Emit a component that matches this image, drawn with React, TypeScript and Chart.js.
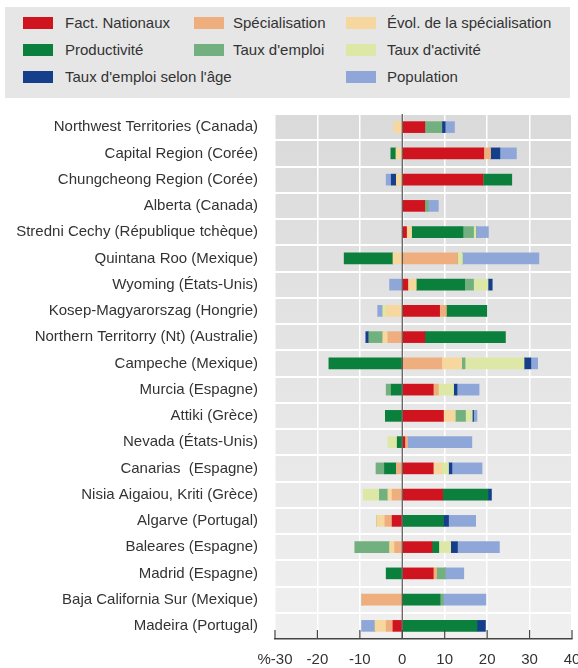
import React, { useEffect, useRef } from "react";
import { Chart, registerables } from "chart.js";

Chart.register(...registerables);

const categories = [
  "Northwest Territories (Canada)",
  "Capital Region (Corée)",
  "Chungcheong Region (Corée)",
  "Alberta (Canada)",
  "Stredni Cechy (République tchèque)",
  "Quintana Roo (Mexique)",
  "Wyoming (États-Unis)",
  "Kosep-Magyarorszag (Hongrie)",
  "Northern Territorry (Nt) (Australie)",
  "Campeche (Mexique)",
  "Murcia (Espagne)",
  "Attiki (Grèce)",
  "Nevada (États-Unis)",
  "Canarias  (Espagne)",
  "Nisia Aigaiou, Kriti (Grèce)",
  "Algarve (Portugal)",
  "Baleares (Espagne)",
  "Madrid (Espagne)",
  "Baja California Sur (Mexique)",
  "Madeira (Portugal)",
];

const factNationaux = [5.3, 19.2, 19, 5.3, 1, 0, 1.3, 8.8, 5.3, 0, 7.3, 9.7, 0.6, 7.3, 9.5, -2.4, 7, 7.3, 0, -2.2];
const specialisation = [0, 1.6, 0, 0, 0, 13, 0, 1.6, -3.4, 9.3, 1.2, 0, 0.6, -1.4, -2.4, -1.7, -1.8, 0.8, -9.5, -1.6];
const evolSpecialisation = [-2, -1.5, -1.4, 0, 1.2, -2.2, 2, -3.8, -1.2, 4.7, 0, 2.8, 0, 2, -1, -1.9, -1.2, 0, 0, -2.6];
const productivite = [0, -1.2, 6.8, 0, 12.1, -11.5, 11.4, 9.5, 19, -17.3, -2.6, -4, -1.2, -2.8, 10.7, 9.7, 1.6, -3.8, 8.9, 17.6];
const tauxEmploi = [4, 0, 0, 0.8, 2.5, 0, 2.1, 0, -3.3, 0.8, -1.2, 2.4, 0, -2, -2, 0, -8.2, 2, 0.8, 0];
const tauxActivite = [0, 0, 0, 0, 0.6, 1.2, 3.4, -0.8, 0, 13.9, 3.6, 1.6, -2.2, 1.6, -3.8, 0, 2.8, 0, 0, 0];
const tauxEmploiAge = [0.8, 2.2, -1.2, 0, 0, 0, 1, 0, -0.7, 1.6, 0.8, 0.3, 0, 0.8, 0.8, 1.2, 1.6, 0, 0, 2];
const population = [2.2, 3.9, -1.2, 2.4, 2.9, 18, -3, -1.2, 0, 1.6, 5.2, 0.8, 15.2, 7.1, 0, 6.4, 9.9, 4.4, 10, -3.2];

const xTicks = [-30, -20, -10, 0, 10, 20, 30, 40];

const seriesNames = [
  "Fact. Nationaux",
  "Spécialisation",
  "Évol. de la spécialisation",
  "Productivité",
  "Taux d'emploi",
  "Taux d'activité",
  "Taux d'emploi selon l'âge",
  "Population",
];
const seriesColors = ["#d0141f", "#eeae7e", "#f6d79d", "#0b7f3c", "#73b07f", "#dde8a6", "#153f8a", "#8fa7d8"];
const seriesData = [
  factNationaux,
  specialisation,
  evolSpecialisation,
  productivite,
  tauxEmploi,
  tauxActivite,
  tauxEmploiAge,
  population,
];

// legend grid: [seriesIndex, col, row]
const legendLayout: [number, number, number][] = [
  [0, 0, 0],
  [1, 1, 0],
  [2, 2, 0],
  [3, 0, 1],
  [4, 1, 1],
  [5, 2, 1],
  [6, 0, 2],
  [7, 2, 2],
];

const FONT = "'Liberation Sans', Arial, Helvetica, sans-serif";

const bgPlugin = {
  id: "bgPlugin",
  beforeDraw(chart: any) {
    const { ctx, chartArea } = chart;
    const g = ctx.createLinearGradient(0, chartArea.top, 0, chartArea.bottom);
    g.addColorStop(0, "#dadada");
    g.addColorStop(1, "#f0f0f0");
    ctx.save();
    ctx.fillStyle = g;
    ctx.fillRect(chartArea.left, chartArea.top, chartArea.right - chartArea.left, chartArea.bottom - chartArea.top);
    ctx.restore();
  },
  afterDatasetsDraw(chart: any) {
    const { ctx, chartArea, scales } = chart;
    const x0 = scales.x.getPixelForValue(0);
    ctx.save();
    ctx.strokeStyle = "#555";
    ctx.lineWidth = 1.2;
    ctx.beginPath();
    ctx.moveTo(x0, chartArea.top);
    ctx.lineTo(x0, chartArea.bottom);
    ctx.stroke();
    ctx.strokeStyle = "#444";
    ctx.lineWidth = 1.2;
    for (const v of xTicks) {
      const x = scales.x.getPixelForValue(v);
      ctx.beginPath();
      ctx.moveTo(x, chartArea.bottom);
      ctx.lineTo(x, chartArea.bottom - 9);
      ctx.stroke();
    }
    ctx.restore();
  },
};

export default function App() {
  const ref = useRef<HTMLCanvasElement>(null);

  useEffect(() => {
    if (!ref.current) return;
    const chart = new Chart(ref.current, {
      type: "bar",
      data: {
        labels: categories,
        datasets: seriesData.map((d, i) => ({
          label: seriesNames[i],
          data: d,
          backgroundColor: seriesColors[i],
          borderWidth: 0,
          barThickness: 11,
        })),
      },
      options: {
        indexAxis: "y",
        animation: false,
        responsive: false,
        layout: { padding: { top: 114, right: 6, left: 0, bottom: 0 } },
        plugins: { legend: { display: false }, tooltip: { enabled: false } },
        scales: {
          x: {
            stacked: true,
            min: -30,
            max: 40,
            afterBuildTicks: (s: any) => {
              s.ticks = xTicks.map((v) => ({ value: v }));
            },
            afterFit: (s: any) => {
              s.height = 29;
              s.paddingLeft = 0;
              s.paddingRight = 0;
            },
            grid: {
              color: "#ffffff",
              lineWidth: 1.5,
              drawTicks: false,
            },
            border: { display: true, color: "#444", width: 1.5 },
            ticks: {
              padding: 12,
              color: "#333",
              font: { family: FONT, size: 15 },
              callback: (v: any) => (Number(v) === -30 ? "%-30" : String(v)),
            },
          },
          y: {
            stacked: true,
            afterFit: (s: any) => {
              s.width = 275;
              s.paddingTop = 0;
              s.paddingBottom = 0;
            },
            grid: {
              color: "#ffffff",
              lineWidth: 2,
              drawTicks: false,
              offset: true,
            },
            border: { display: false },
            ticks: {
              padding: 17,
              color: "#333",
              font: { family: FONT, size: 15 },
              autoSkip: false,
            },
          },
        },
      },
      plugins: [bgPlugin],
    });
    return () => chart.destroy();
  }, []);

  const colX = [23, 194, 346];
  const textX = [65, 233, 387];
  const rowY = [23, 50, 77];

  return (
    <div style={{ position: "absolute", left: 0, top: 0, width: 578, height: 668, background: "#fff", fontFamily: FONT }}>
      <div
        style={{
          position: "absolute",
          left: 5,
          top: 7,
          width: 565,
          height: 91,
          background: "#e6e6e6",
        }}
      />
      {legendLayout.map(([si, c, r]) => (
        <React.Fragment key={si}>
          <div
            style={{
              position: "absolute",
              left: colX[c],
              top: rowY[r] - 6,
              width: 30,
              height: 12,
              background: seriesColors[si],
            }}
          />
          <div
            style={{
              position: "absolute",
              left: textX[c],
              top: rowY[r] - 10,
              height: 20,
              lineHeight: "20px",
              fontSize: 15,
              color: "#333",
              whiteSpace: "nowrap",
            }}
          >
            {seriesNames[si]}
          </div>
        </React.Fragment>
      ))}
      <canvas ref={ref} width={578} height={668} style={{ position: "absolute", left: 0, top: 0 }} />
    </div>
  );
}
